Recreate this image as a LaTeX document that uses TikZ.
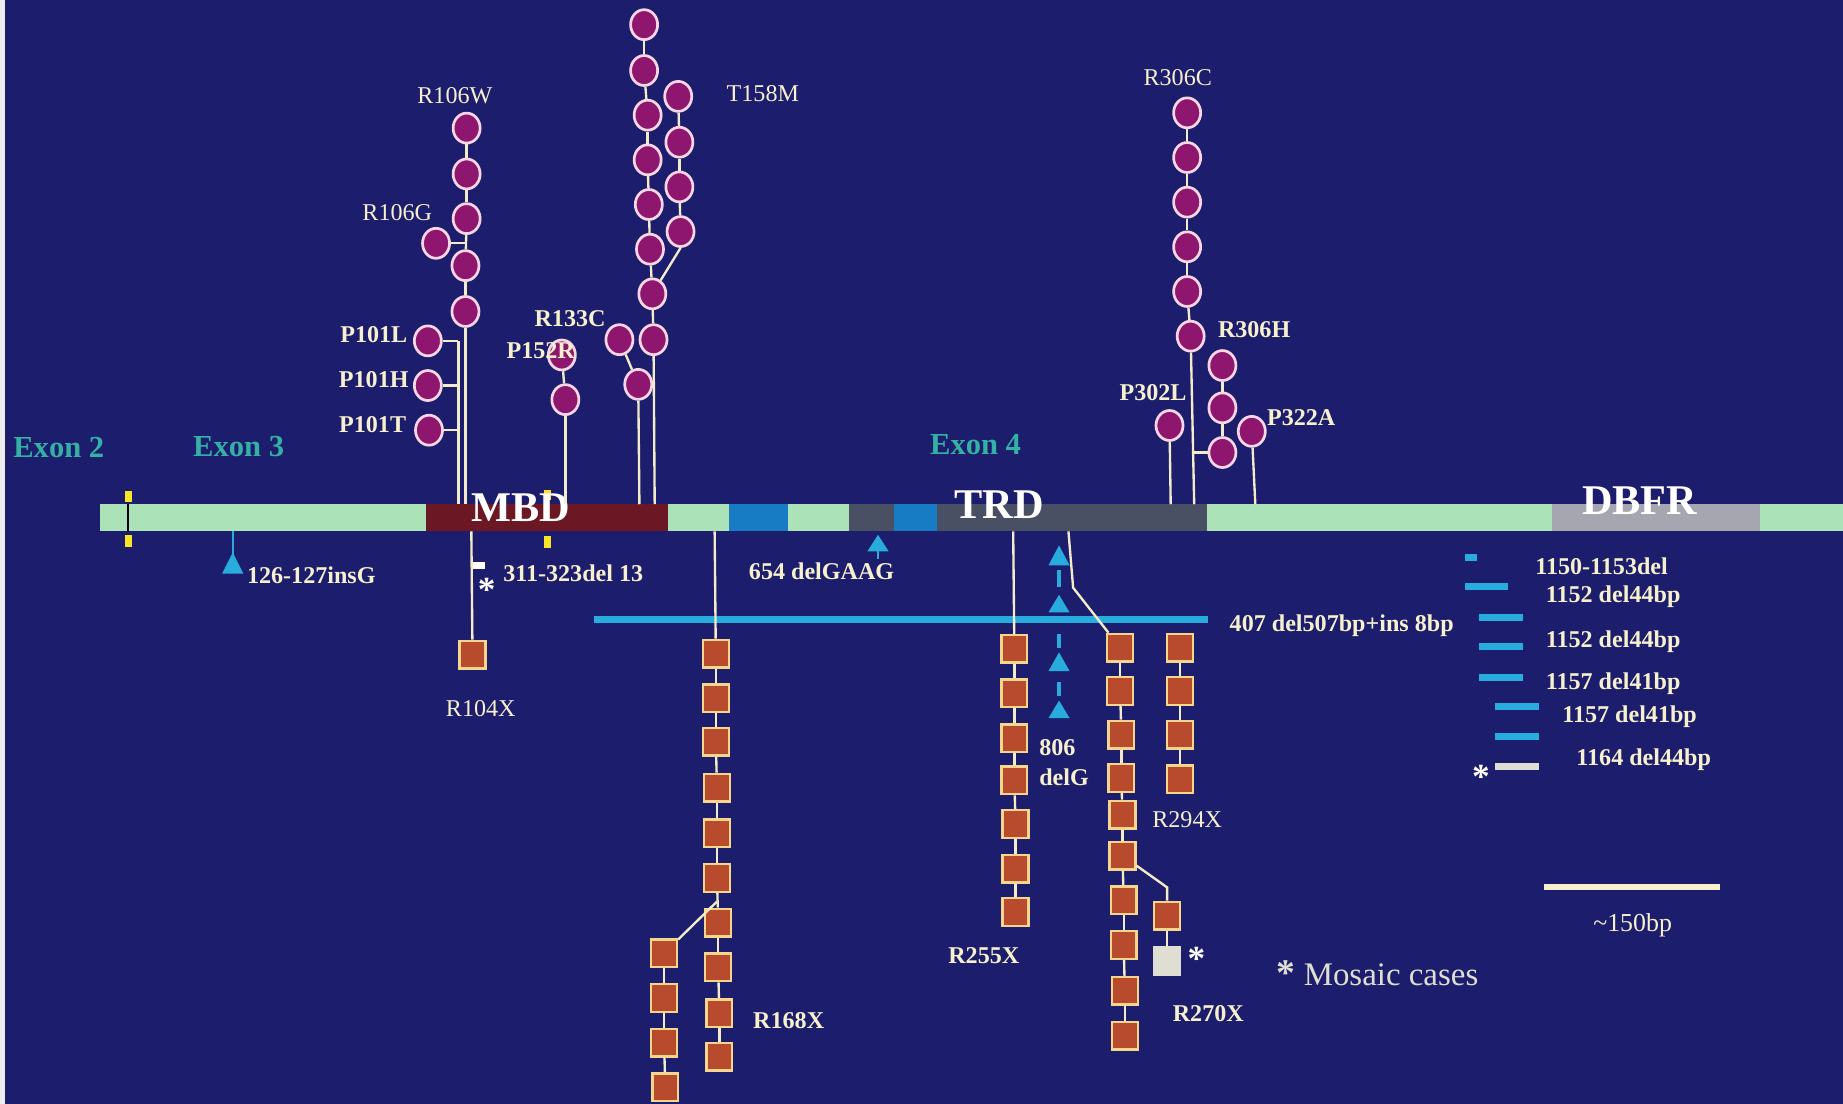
\documentclass[tikz,border=0pt]{standalone}
\usepackage{fontspec}
\setmainfont{Liberation Serif}
\usetikzlibrary{shapes.geometric}
\definecolor{bg}{RGB}{28,29,108}
\definecolor{mint}{RGB}{172,226,184}
\definecolor{maroon}{RGB}{108,24,36}
\definecolor{segblue}{RGB}{24,124,196}
\definecolor{dgray}{RGB}{74,80,100}
\definecolor{lgray}{RGB}{165,166,176}
\definecolor{purp}{RGB}{142,22,110}
\definecolor{ring}{RGB}{246,214,228}
\definecolor{rust}{RGB}{184,74,46}
\definecolor{sqline}{RGB}{246,214,140}
\definecolor{linec}{RGB}{242,236,200}
\definecolor{labc}{RGB}{246,240,206}
\definecolor{lblue}{RGB}{40,172,222}
\definecolor{ylw}{RGB}{250,228,40}
\definecolor{exonc}{RGB}{52,176,164}
\definecolor{mosc}{RGB}{222,222,210}
\newcommand{\uptri}[3]{\fill[lblue] (#1,#2) -- (#1-9,#3) -- (#1+9,#3) -- cycle;}
\begin{document}
\begin{tikzpicture}[x=1pt,y=-1pt,
  mis/.style={ellipse,draw=ring,line width=2.3pt,fill=purp,minimum width=23pt,minimum height=25.5pt,inner sep=0pt},
  non/.style={rectangle,draw=sqline,line width=2pt,fill=rust,minimum width=22pt,minimum height=23.5pt,inner sep=0pt},
  mos/.style={non,fill=mosc,draw=mosc},
  stem/.style={draw=linec,line width=2pt},
  lab/.style={text=labc,font=\fontsize{20.5}{22}\selectfont,inner sep=0pt},
  blab/.style={text=labc,font=\bfseries\fontsize{20.5}{22}\selectfont,inner sep=0pt},
  astk/.style={text=white,font=\bfseries\fontsize{30}{30}\selectfont,inner sep=0pt},
  dom/.style={text=white,font=\bfseries\fontsize{36}{38}\selectfont,inner sep=0pt},
  exon/.style={text=exonc,font=\bfseries\fontsize{26}{28}\selectfont,inner sep=0pt},
  seg/.style={rectangle,inner sep=0pt,minimum height=23pt,anchor=west},
  delbar/.style={draw=lblue,line width=6pt}]
\fill[bg] (0,0) rectangle (1568,939);
\useasboundingbox (0,0) rectangle (1568,939);
\fill[white!85!gray] (0,0) rectangle (4,939);

% ---- gene bar ----
\node[seg,fill=mint,minimum width=277pt] (ex23) at (85,440.5) {};
\node[seg,fill=maroon,minimum width=206pt] (mbd) at (362,440.5) {};
\node[seg,fill=mint,minimum width=52pt] (gA) at (568,440.5) {};
\node[seg,fill=segblue,minimum width=50pt] (bA) at (620,440.5) {};
\node[seg,fill=mint,minimum width=52pt] (gB) at (670,440.5) {};
\node[seg,fill=dgray,minimum width=38pt] (dA) at (722,440.5) {};
\node[seg,fill=segblue,minimum width=37pt] (bB) at (760,440.5) {};
\node[seg,fill=dgray,minimum width=230pt] (trd) at (797,440.5) {};
\node[seg,fill=mint,minimum width=293pt] (gC) at (1027,440.5) {};
\node[seg,fill=lgray,minimum width=177pt] (dbfr) at (1320,440.5) {};
\node[seg,fill=mint,minimum width=71pt] (gD) at (1497,440.5) {};
\draw[black,line width=2pt] (109,429) -- (109,452);

% yellow marks
\fill[ylw] (106,418) rectangle (112,427);
\fill[ylw] (106,455) rectangle (112,465);
\fill[ylw] (463,417) rectangle (469,425);
\fill[ylw] (463,456) rectangle (469,466);

% domain and exon labels
\node[dom] (mbdl) at (443,432) {MBD};
\node[dom] (trdl) at (850,429) {TRD};
\node[dom] (dbfrl) at (1395,426) {DBFR};
\node[exon] (ex2) at (50,381) {Exon 2};
\node[exon] (ex3) at (203,380) {Exon 3};
\node[exon] (ex4) at (830,378) {Exon 4};

% ---- missense (circles) ----
\node[mis] (w1) at (397,109) {};
\node[mis] (w2) at (397,148) {};
\node[mis] (w3) at (397,186) {};
\node[mis] (w4) at (396,226) {};
\node[mis] (w5) at (396,265) {};
\node[mis] (gc) at (371,207) {};
\node[mis] (p1) at (364,290) {};
\node[mis] (p2) at (364,328) {};
\node[mis] (p3) at (365,366) {};
\node[mis] (q1) at (478,302) {};
\node[mis] (q2) at (481,340) {};
\node[mis] (c1) at (527,289) {};
\node[mis] (c2) at (543,327) {};
\node[mis] (t1) at (548,21) {};
\node[mis] (t2) at (548,60) {};
\node[mis] (t3) at (551,98) {};
\node[mis] (t4) at (551,136) {};
\node[mis] (t5) at (552,174) {};
\node[mis] (t6) at (553,212) {};
\node[mis] (t7) at (555,250) {};
\node[mis] (t8) at (556,289) {};
\node[mis] (s1) at (577,82) {};
\node[mis] (s2) at (578,121) {};
\node[mis] (s3) at (578,159) {};
\node[mis] (s4) at (579,197) {};
\node[mis] (r1) at (1010,96) {};
\node[mis] (r2) at (1010,134) {};
\node[mis] (r3) at (1010,172) {};
\node[mis] (r4) at (1010,210) {};
\node[mis] (r5) at (1010,248) {};
\node[mis] (r6) at (1013,286) {};
\node[mis] (h1) at (1040,311) {};
\node[mis] (h2) at (1040,347) {};
\node[mis] (h3) at (1040,385) {};
\node[mis] (l1) at (995,362) {};
\node[mis] (a1) at (1065,367) {};

\coordinate (wb) at (396,429);
\coordinate (gj) at (396,207);
\coordinate (pj1) at (390,290);
\coordinate (pj2) at (390,328);
\coordinate (pj3) at (390,366);
\coordinate (pb) at (390,429);
\coordinate (qb) at (481,429);
\coordinate (cb) at (544,429);
\coordinate (tb) at (557,429);
\coordinate (rb) at (1016,429);
\coordinate (hj) at (1016,385);
\coordinate (lb) at (996,429);
\coordinate (ab) at (1068,429);

\draw[stem] (w1) -- (w2);
\draw[stem] (w2) -- (w3);
\draw[stem] (w3) -- (w4);
\draw[stem] (w4) -- (w5);
\draw[stem] (w5) -- (wb);
\draw[stem] (gc) -- (gj);
\draw[stem] (p1) -- (pj1);
\draw[stem] (p2) -- (pj2);
\draw[stem] (p3) -- (pj3);
\draw[stem] (pj1) -- (pb);
\draw[stem] (q1) -- (q2);
\draw[stem] (q2) -- (qb);
\draw[stem] (c1) -- (c2);
\draw[stem] (c2) -- (cb);
\draw[stem] (t1) -- (t2);
\draw[stem] (t2) -- (t3);
\draw[stem] (t3) -- (t4);
\draw[stem] (t4) -- (t5);
\draw[stem] (t5) -- (t6);
\draw[stem] (t6) -- (t7);
\draw[stem] (t7) -- (t8);
\draw[stem] (t8) -- (tb);
\draw[stem] (s1) -- (s2);
\draw[stem] (s2) -- (s3);
\draw[stem] (s3) -- (s4);
\draw[stem] (s4.south) -- (t7);
\draw[stem] (r1) -- (r2);
\draw[stem] (r2) -- (r3);
\draw[stem] (r3) -- (r4);
\draw[stem] (r4) -- (r5);
\draw[stem] (r5) -- (r6);
\draw[stem] (r6) -- (rb);
\draw[stem] (h1) -- (h2);
\draw[stem] (h2) -- (h3);
\draw[stem] (h3) -- (hj);
\draw[stem] (l1) -- (lb);
\draw[stem] (a1) -- (ab);

% missense labels
\node[lab] (lw) at (387,81) {R106W};
\node[lab] (lg) at (338,181) {R106G};
\node[blab] (lp1) at (318,285) {P101L};
\node[blab] (lp2) at (318,323) {P101H};
\node[blab] (lp3) at (317,361) {P101T};
\node[blab] (lc) at (485,271) {R133C};
\node[blab] (lq) at (460,298) {P152R};
\node[lab] (lt) at (649,80) {T158M};
\node[lab] (lr) at (1002,66) {R306C};
\node[blab] (lh) at (1067,280) {R306H};
\node[blab] (ll) at (981,334) {P302L};
\node[blab] (la) at (1107,355) {P322A};

% ---- deletions / insertions ----
\draw[delbar] (505,527) -- (1028,527);
\node[blab,anchor=west] (l407) at (1046,532) {407 del507bp+ins 8bp};

\draw[lblue,line width=2pt] (198,452) -- (198,472);
\uptri{198}{470}{488}
\node[blab,anchor=west] (l126) at (210,489) {126-127insG};

\uptri{747}{455}{469}
\draw[lblue,line width=2pt] (747,468) -- (747,476);
\node[blab] (l654) at (699,486) {654 delGAAG};

\uptri{901}{464}{481}
\draw[lblue,line width=3pt] (901,485) -- (901,499);
\uptri{901}{506}{521}
\draw[lblue,line width=3pt] (901,539) -- (901,551);
\uptri{901}{555}{571}
\draw[lblue,line width=3pt] (901,580) -- (901,592);
\uptri{901}{596}{611}
\node[blab,anchor=west] (l806a) at (884,636) {806};
\node[blab,anchor=west] (l806b) at (884,661) {delG};

\fill[white] (401,478) rectangle (413,484);
\node[astk] (ast1) at (414,502) {*};
\node[blab,anchor=west] (l311) at (428,488) {311-323del 13};

% right-hand deletion list
\draw[delbar] (1246,474) -- (1257,474);
\draw[delbar] (1246,499) -- (1283,499);
\draw[delbar] (1258,525) -- (1296,525);
\draw[delbar] (1258,550) -- (1296,550);
\draw[delbar] (1258,576) -- (1296,576);
\draw[delbar] (1272,601) -- (1309,601);
\draw[delbar] (1272,627) -- (1309,627);
\draw[draw=mosc,line width=6pt] (1272,652) -- (1309,652);
\node[astk] (ast3) at (1260,661) {*};
\node[blab,anchor=west] (d1) at (1306,482) {1150-1153del};
\node[blab,anchor=west] (d2) at (1315,508) {1152 del44bp};
\node[blab,anchor=west] (d3) at (1315,546) {1152 del44bp};
\node[blab,anchor=west] (d4) at (1315,582) {1157 del41bp};
\node[blab,anchor=west] (d5) at (1329,610) {1157 del41bp};
\node[blab,anchor=west] (d6) at (1341,646) {1164 del44bp};

% ---- nonsense (squares) ----
\node[non] (n104) at (402,557) {};
\coordinate (n104t) at (401,452);
\draw[stem] (n104t) -- (n104);
\node[lab] (l104) at (409,603) {R104X};

\node[non] (m1) at (609,556) {};
\node[non] (m2) at (609,594) {};
\node[non] (m3) at (609,631) {};
\node[non] (m4) at (610,670) {};
\node[non] (m5) at (610,709) {};
\node[non] (m6) at (610,747) {};
\node[non] (m7) at (611,785) {};
\node[non] (m8) at (611,823) {};
\node[non] (m9) at (612,862) {};
\node[non] (m10) at (612,899) {};
\node[non] (mb1) at (565,811) {};
\node[non] (mb2) at (565,849) {};
\node[non] (mb3) at (565,887) {};
\node[non] (mb4) at (566,925) {};
\coordinate (mt) at (608,452);
\coordinate (mj) at (610,767);
\draw[stem] (mt) -- (m1);
\draw[stem] (m1) -- (m2);
\draw[stem] (m2) -- (m3);
\draw[stem] (m3) -- (m4);
\draw[stem] (m4) -- (m5);
\draw[stem] (m5) -- (m6);
\draw[stem] (m6) -- (m7);
\draw[stem] (m7) -- (m8);
\draw[stem] (m8) -- (m9);
\draw[stem] (m9) -- (m10);
\draw[stem] (mj) -- (mb1);
\draw[stem] (mb1) -- (mb2);
\draw[stem] (mb2) -- (mb3);
\draw[stem] (mb3) -- (mb4);
\node[blab] (l168) at (671,868) {R168X};

\node[non] (e1) at (863,552) {};
\node[non] (e2) at (863,590) {};
\node[non] (e3) at (863,628) {};
\node[non] (e4) at (863,664) {};
\node[non] (e5) at (864,701) {};
\node[non] (e6) at (864,739) {};
\node[non] (e7) at (864,776) {};
\coordinate (et) at (862,452);
\draw[stem] (et) -- (e1);
\draw[stem] (e1) -- (e2);
\draw[stem] (e2) -- (e3);
\draw[stem] (e3) -- (e4);
\draw[stem] (e4) -- (e5);
\draw[stem] (e5) -- (e6);
\draw[stem] (e6) -- (e7);
\node[blab] (l255) at (837,813) {R255X};

\node[non] (f1) at (953,551) {};
\node[non] (f2) at (953,588) {};
\node[non] (f3) at (954,625) {};
\node[non] (f4) at (954,662) {};
\node[non] (f5) at (955,693) {};
\node[non] (f6) at (955,728) {};
\node[non] (f7) at (956,766) {};
\node[non] (f8) at (956,804) {};
\node[non] (f9) at (957,843) {};
\node[non] (f10) at (957,881) {};
\node[non] (fb1) at (993,779) {};
\node[mos] (fm) at (993,818) {};
\coordinate (ft) at (909,452);
\coordinate (fk) at (913,500);
\coordinate (fbk) at (993,755);
\draw[stem] (ft) -- (fk) -- (f1);
\draw[stem] (f1) -- (f2);
\draw[stem] (f2) -- (f3);
\draw[stem] (f3) -- (f4);
\draw[stem] (f4) -- (f5);
\draw[stem] (f5) -- (f6);
\draw[stem] (f6) -- (f7);
\draw[stem] (f7) -- (f8);
\draw[stem] (f8) -- (f9);
\draw[stem] (f9) -- (f10);
\draw[stem] (f6) -- (fbk) -- (fb1);
\draw[stem] (fb1) -- (fm);
\node[astk] (ast2) at (1018,816) {*};
\node[blab] (l270) at (1028,862) {R270X};

\node[non] (k1) at (1004,551) {};
\node[non] (k2) at (1004,588) {};
\node[non] (k3) at (1004,625) {};
\node[non] (k4) at (1004,663) {};
\draw[stem] (k1) -- (k2);
\draw[stem] (k2) -- (k3);
\draw[stem] (k3) -- (k4);
\node[lab] (l294) at (1010,697) {R294X};

% scale bar and legend
\draw[draw=labc,line width=5pt] (1314,755) -- (1463,755);
\node[lab,font=\fontsize{22}{24}\selectfont] (lsc) at (1389,787) {\char`~150bp};
\node[anchor=west,text=mosc,font=\fontsize{28}{30}\selectfont,inner sep=0pt] (lmos) at (1086,828) {{\bfseries\fontsize{32}{32}\selectfont *}\hspace{7pt}Mosaic cases};
\end{tikzpicture}
\end{document}
